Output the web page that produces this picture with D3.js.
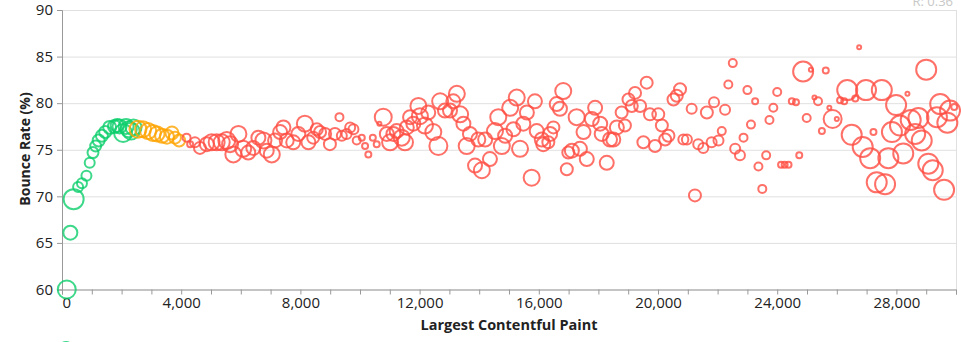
<!DOCTYPE html>
<html><head><meta charset="utf-8">
<script src="https://cdn.jsdelivr.net/npm/d3@7"></script>
<style>body{margin:0;background:#fff}svg{display:block}</style>
</head><body><svg id="c" width="961" height="342"></svg>
<script>
// Largest Contentful Paint (ms)
const lcp = [
160,280,390,540,670,820,930,1040,1130,1230,1340,1450,1600,1760,1850,1930,2050,2150,2240,2320,2400,
2550,2720,2890,3050,3190,3360,3520,3690,3790,3930,
4180,4300,4460,4630,4860,5020,5190,5360,5530,5640,5750,5920,6080,6250,6420,6590,6760,6870,7040,7150,
7320,7430,7540,7760,7930,8150,8270,8430,8550,8660,8830,8990,9160,9310,9390,9550,9670,9780,9890,10060,
10170,10280,10430,10560,10650,10780,10900,11010,11120,11230,11400,11510,11570,11680,11790,11960,12010,12180,12290,12460,
12630,12690,12850,13020,13130,13250,13360,13470,13580,13690,13860,13970,14090,14200,14360,14530,14640,14760,14870,15040,
15150,15260,15370,15480,15600,15760,15870,15930,16100,16150,16320,16380,16490,16600,16710,16820,16940,16990,17110,17270,
17380,17500,17610,17780,17890,18060,18110,18280,18390,18500,18620,18780,18890,19010,19120,19230,19400,19510,19620,19730,
19900,20010,20130,20240,20350,20520,20630,20740,20850,20970,21130,21240,21350,21520,21640,21800,21880,22030,22140,22250,
22360,22510,22590,22750,22870,23000,23120,23260,23370,23500,23630,23740,23870,24000,24130,24250,24380,24490,24630,24740,
24870,24990,25130,25250,25370,25500,25630,25750,25860,26000,26110,26250,26350,26500,26620,26750,26870,26980,27120,27230,
27340,27510,27620,27730,27850,27990,28120,28230,28370,28480,28630,28740,28850,29000,29070,29220,29360,29470,29600,29710,
29800,29940
];
// Bounce rate (%)
const bounceRate = [
60.0,66.1,69.7,71.0,71.4,72.2,73.6,74.7,75.4,76.0,76.5,76.9,77.4,77.5,77.6,77.5,76.8,77.5,77.2,77.0,77.4,
77.2,77.2,77.0,76.8,76.7,76.5,76.4,76.8,76.3,76.0,
76.3,75.6,75.8,75.2,75.6,75.8,75.8,75.8,76.0,75.6,74.5,76.7,75.1,74.7,75.2,76.3,76.0,74.9,74.5,76.0,
76.9,77.4,76.0,75.8,76.7,77.8,75.8,76.3,77.2,76.9,76.7,75.6,76.7,78.5,76.5,76.7,77.4,77.2,76.0,76.3,
75.4,74.5,76.3,75.6,77.8,78.5,76.7,75.8,76.7,77.0,76.3,75.8,77.4,78.5,77.8,79.7,78.6,77.6,79.0,76.9,
75.4,80.2,79.2,79.2,80.2,81.0,78.8,77.8,75.4,76.7,73.3,76.1,72.8,76.1,74.0,77.0,78.5,75.4,76.5,79.5,
77.2,80.6,75.1,77.8,79.0,72.0,80.2,77.0,76.1,75.6,75.8,76.7,77.4,79.9,79.4,81.3,72.9,74.7,74.9,78.5,
75.1,76.9,74.0,78.3,79.5,77.8,76.7,73.6,76.1,76.1,77.4,79.0,77.6,80.4,79.7,81.1,79.7,75.8,82.2,78.8,
75.4,78.8,77.6,76.1,76.5,80.4,80.8,81.5,76.1,76.1,79.4,70.1,75.6,75.2,79.0,75.8,80.1,76.0,77.0,79.3,
82.0,84.3,75.1,74.4,76.3,81.4,77.7,80.2,73.2,70.8,74.4,78.2,79.5,81.2,73.4,73.4,73.4,80.2,80.1,74.4,
83.4,78.4,83.6,80.6,80.2,77.0,83.5,79.5,78.3,78.3,80.3,80.2,81.4,76.6,80.5,86.0,75.3,81.4,74.1,76.9,
71.5,81.4,71.3,74.1,76.9,79.8,77.6,74.6,81.0,78.2,76.7,78.4,76.0,83.6,73.5,72.8,78.5,79.9,70.7,77.9,
79.2,79.6
];
// Sample size (circle area)
const sampleSize = [
810,490,1000,250,250,250,250,300,300,360,360,360,420,420,420,490,810,560,640,720,640,
720,640,640,640,560,490,490,420,360,360,
160,90,250,360,490,640,640,640,720,640,640,640,640,490,490,490,640,490,640,490,
490,490,490,490,490,640,490,360,360,360,360,360,360,160,250,250,250,250,160,90,
90,90,90,90,40,720,490,640,490,490,640,640,490,490,490,640,640,640,490,640,
810,640,490,490,490,640,640,490,640,490,490,490,640,490,490,640,640,640,490,640,
490,640,640,490,490,640,490,490,490,490,360,490,360,490,490,640,360,360,490,640,
490,490,490,490,490,490,490,490,490,490,490,360,360,360,360,360,360,360,360,360,
360,360,360,360,360,360,360,360,250,250,250,360,250,250,360,250,250,250,160,250,
160,160,250,250,160,160,160,90,160,160,160,160,160,160,90,90,90,90,90,90,
1000,160,40,40,160,90,90,40,810,40,90,90,1000,1000,90,40,1000,1000,1000,90,
1000,1000,1000,1000,1000,1000,1000,1000,40,1000,1000,1000,1000,1000,1000,1000,1000,1000,1000,1000,
1000,90
];
const xLabelValues = [0,4000,8000,12000,16000,20000,24000,28000];
const yTickValues = [60,65,70,75,80,85,90];
const goodMax = 2500, needsMax = 4000;
const colors = {good:"#0cce6b", ni:"#ffa400", poor:"#ff4e42"};

const svg = d3.select("#c");
const x = d3.scaleLinear().domain([0,30000]).range([62,956]);
const y = d3.scaleLinear().domain([60,90]).range([289.5,10]);
const r = d3.scaleSqrt().domain([0,1000]).range([0,10]);
const font = "'Open Sans', 'DejaVu Sans', sans-serif";

// grid
svg.append("g").selectAll("line").data(yTickValues).join("line")
  .attr("x1",x(0)).attr("x2",x(30000)).attr("y1",d=>y(d)+0.5).attr("y2",d=>y(d)+0.5)
  .attr("stroke","#e0e0e0");
svg.append("line").attr("x1",x(30000)+0.5).attr("x2",x(30000)+0.5).attr("y1",y(90)).attr("y2",y(60))
  .attr("stroke","#e0e0e0");

// x axis
const xAxis = d3.axisBottom(x).tickValues(x.ticks(30)).tickSize(5).tickPadding(3)
  .tickFormat(d => xLabelValues.includes(d) ? d3.format(",")(d) : "");
const gx = svg.append("g").attr("transform",`translate(0,${y(60)})`).call(xAxis);
gx.selectAll("text").attr("font-family",font).attr("font-size",15).attr("fill","#222");
gx.selectAll("text").filter(d=>d===0).attr("text-anchor","start");
gx.selectAll("line,path").attr("stroke","#999");

// y axis
const yAxis = d3.axisLeft(y).tickValues(yTickValues).tickSize(5).tickPadding(4);
const gy = svg.append("g").attr("transform",`translate(${x(0)},0)`).call(yAxis);
gy.selectAll("text").attr("font-family",font).attr("font-size",15).attr("fill","#222");
gy.selectAll("line,path").attr("stroke","#999");

// titles
svg.append("text").attr("x",509).attr("y",330).attr("text-anchor","middle")
  .attr("font-family",font).attr("font-size",14).attr("font-weight","bold").attr("fill","#222")
  .attr("textLength",177).attr("lengthAdjust","spacingAndGlyphs")
  .text("Largest Contentful Paint");
svg.append("text").attr("transform","translate(30,149) rotate(-90)").attr("text-anchor","middle")
  .attr("font-family",font).attr("font-size",14).attr("font-weight","bold").attr("fill","#222")
  .text("Bounce Rate (%)");

// points
const pts = lcp.map((v,i)=>({x:v,y:bounceRate[i],s:sampleSize[i]}));
svg.append("g").selectAll("circle").data(pts).join("circle")
  .attr("cx",d=>x(d.x)).attr("cy",d=>y(d.y)).attr("r",d=>r(d.s))
  .attr("fill","none").attr("stroke-width",2).attr("stroke-opacity",0.8)
  .attr("stroke",d=> d.x<=goodMax ? colors.good : d.x<=needsMax ? colors.ni : colors.poor);

// legend (cut off at bottom) and R label
svg.append("circle").attr("cx",66).attr("cy",349).attr("r",7).attr("fill","none")
  .attr("stroke",colors.good).attr("stroke-width",2).attr("stroke-opacity",0.8);
svg.append("text").attr("x",953).attr("y",6).attr("text-anchor","end")
  .attr("font-family",font).attr("font-size",13).attr("fill","#c8c8c8").text("R: 0.36");
</script></body></html>
